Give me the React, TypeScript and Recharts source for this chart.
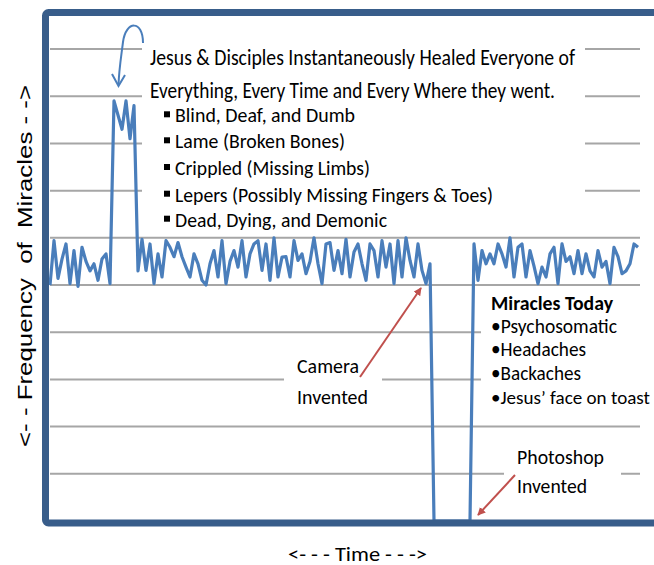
import React from 'react';
import { LineChart, Line, XAxis, YAxis, ReferenceLine } from 'recharts';

// Frequency of miracles over time
const earlyDays = [5.0, 5.94, 5.14, 5.55, 5.87, 5.03, 5.73, 4.97, 5.8, 5.5, 5.3, 5.45, 5.1, 5.55, 5.66, 5.03];
const jesusPeak = [8.9, 8.6, 8.3, 8.9, 8.1, 8.8];
const afterPeak = [5.3, 5.97, 5.31, 5.87, 5.03, 5.66, 5.17, 5.94, 5.8, 5.6, 5.9, 5.6, 5.38, 5.17, 5.66, 5.45, 5.1, 5.0, 5.45, 5.73, 5.17, 5.94, 5.03, 5.5, 5.73, 5.38, 5.94, 5.17];
const beforeCamera = [5.66, 5.87, 5.94, 5.31, 5.87, 5.1, 6.0, 5.17, 5.59, 5.6, 5.17, 5.94, 5.52, 5.66, 5.24, 5.5, 6.0, 5.45, 5.03, 5.87, 5.9, 5.31, 5.73, 5.24, 5.97, 5.17, 5.7, 5.87, 5.45, 5.1, 5.87, 5.73, 5.17, 5.94, 5.38, 5.87, 5.03, 5.94, 5.17, 6.0, 5.52, 5.17, 5.87, 5.31, 5.03, 5.45];
const cameraToPhotoshop = [0, 0, 0, 0, 0, 0, 0, 0, 0, 0];
const afterPhotoshop = [5.87, 5.1, 5.73, 5.45, 5.66, 5.45, 5.87, 5.66, 5.38, 6.0, 5.17, 5.8, 5.87, 5.17, 5.73, 5.4, 5.03, 5.38, 5.17, 5.66, 5.8, 5.03, 5.87, 5.5, 5.6, 5.24, 5.73, 5.24, 5.66, 5.3, 5.17, 5.73, 5.38, 5.5, 5.03, 5.8, 5.6, 5.24, 5.3, 5.45, 5.87, 5.8];

const gridTicks = [1, 2, 3, 4, 5, 6, 7, 8, 9, 10];

const headline = [
  'Jesus & Disciples Instantaneously Healed Everyone of',
  'Everything, Every Time and Every Where they went.',
];
const healedList = [
  'Blind, Deaf, and Dumb',
  'Lame (Broken Bones)',
  'Crippled (Missing Limbs)',
  'Lepers (Possibly Missing Fingers & Toes)',
  'Dead, Dying, and Demonic',
];
const todayTitle = 'Miracles Today';
const todayList = ['•Psychosomatic', '•Headaches', '•Backaches', '•Jesus’ face on toast'];
const cameraLabel = ['Camera', 'Invented'];
const photoshopLabel = ['Photoshop', 'Invented'];
const xLabel = '<- - - Time - - ->';
const yLabel = '<- - Frequency  of  Miracles - ->';

const series = [...earlyDays, ...jesusPeak, ...afterPeak, ...beforeCamera, ...cameraToPhotoshop, ...afterPhotoshop];
const data = series.map((v, t) => ({ t, v }));

const FONT = 'Carlito, Lato, "Open Sans", sans-serif';

// layout (pixels) for annotations
const headlineLayout = [
  { y: 64.5, len: 425 },
  { y: 98.3, len: 405 },
];
const healedLayout = [
  { y: 122.3, len: 180 },
  { y: 148.3, len: 170 },
  { y: 175, len: 195 },
  { y: 201.7, len: 318 },
  { y: 226.7, len: 212 },
];
const todayLayout = [
  { y: 332.7, len: 126, fs: 20 },
  { y: 356, len: 95, fs: 20 },
  { y: 380, len: 90, fs: 20 },
  { y: 404, len: 159, fs: 18 },
];

export default function App() {
  return (
    <div style={{ position: 'absolute', left: 0, top: 0, width: 654, height: 565, background: '#fff', overflow: 'hidden' }}>
      <LineChart width={654} height={565} data={data} margin={{ top: 16, right: 14, bottom: 44, left: 50 }}>
        <XAxis dataKey="t" type="number" domain={[0, 147.5]} hide />
        <YAxis
          type="number"
          domain={[0, 10.7]}
          ticks={gridTicks}
          width={0}
          tick={false}
          tickLine={false}
          axisLine={{ stroke: '#C8C8C8', strokeWidth: 3 }}
        />
        {gridTicks.map((k) => (
          <ReferenceLine key={k} y={k} stroke="#A6A6A6" strokeWidth={2} />
        ))}
        <Line
          dataKey="v"
          stroke="#4A7EBB"
          strokeWidth={3.2}
          dot={false}
          isAnimationActive={false}
          strokeLinejoin="round"
          type="linear"
        />
      </LineChart>
      <svg width={654} height={565} style={{ position: 'absolute', left: 0, top: 0, pointerEvents: 'none' }}>
        <defs>
          <marker id="redHead" viewBox="0 0 10 10" refX="9" refY="5" markerWidth="4" markerHeight="4" orient="auto">
            <path d="M0,0 L10,5 L0,10 z" fill="#C0504D" />
          </marker>
        </defs>
        {/* white text boxes */}
        <rect x={142} y={34} width={443} height={198} fill="#fff" />
        <rect x={481} y={291} width={180} height={120} fill="#fff" />
        <rect x={284} y={348} width={98} height={64} fill="#fff" />
        <rect x={504} y={443} width={117} height={60} fill="#fff" />

        {headline.map((s, i) => (
          <text key={s} x={150} y={headlineLayout[i].y} fontFamily={FONT} fontSize={22} fill="#000"
            textLength={headlineLayout[i].len} lengthAdjust="spacingAndGlyphs">{s}</text>
        ))}
        {healedList.map((s, i) => (
          <g key={s}>
            <rect x={164} y={healedLayout[i].y - 11} width={6} height={6} fill="#000" />
            <text x={175} y={healedLayout[i].y} fontFamily={FONT} fontSize={21} fill="#000"
              textLength={healedLayout[i].len} lengthAdjust="spacingAndGlyphs">{s}</text>
          </g>
        ))}

        <text x={491} y={310} fontFamily={FONT} fontSize={20} fontWeight="bold" fill="#000"
          textLength={122} lengthAdjust="spacingAndGlyphs">{todayTitle}</text>
        {todayList.map((s, i) => (
          <text key={s} x={491} y={todayLayout[i].y} fontFamily={FONT} fontSize={todayLayout[i].fs} fill="#000"
            textLength={todayLayout[i].len} lengthAdjust="spacingAndGlyphs">{s}</text>
        ))}

        <text x={297} y={373} fontFamily={FONT} fontSize={21} fill="#000" textLength={62} lengthAdjust="spacingAndGlyphs">{cameraLabel[0]}</text>
        <text x={297} y={404} fontFamily={FONT} fontSize={21} fill="#000" textLength={71} lengthAdjust="spacingAndGlyphs">{cameraLabel[1]}</text>
        <text x={517} y={464} fontFamily={FONT} fontSize={21} fill="#000" textLength={87} lengthAdjust="spacingAndGlyphs">{photoshopLabel[0]}</text>
        <text x={517} y={493} fontFamily={FONT} fontSize={21} fill="#000" textLength={70} lengthAdjust="spacingAndGlyphs">{photoshopLabel[1]}</text>

        {/* red arrows */}
        <line x1={360} y1={377} x2={421} y2={288} stroke="#C0504D" strokeWidth={2} markerEnd="url(#redHead)" />
        <line x1={515} y1={475} x2={478} y2={515} stroke="#C0504D" strokeWidth={2} markerEnd="url(#redHead)" />

        {/* blue curved arrow */}
        <path d="M143,43 C143,20 126,20 123,42 C121,58 119,70 118.5,85" fill="none" stroke="#4A7EBB" strokeWidth={2} />
        <polyline points="112,74 118.5,86 125,75" fill="none" stroke="#4A7EBB" strokeWidth={2} />

        {/* frame */}
        <rect x={45.5} y={12.5} width={640} height={510.5} rx={3} fill="none" stroke="#385D8A" strokeWidth={7} />

        {/* axis titles */}
        <text x={288} y={561} fontFamily={FONT} fontSize={20} fill="#000" textLength={139} lengthAdjust="spacingAndGlyphs"
          style={{ whiteSpace: 'pre' }}>{xLabel}</text>
        <text transform="translate(32,447) rotate(-90)" x={0} y={0} fontFamily='"Liberation Sans", Arial, sans-serif'
          fontSize={21} fill="#000" textLength={362} lengthAdjust="spacingAndGlyphs" style={{ whiteSpace: 'pre' }}>{yLabel}</text>
      </svg>
    </div>
  );
}
